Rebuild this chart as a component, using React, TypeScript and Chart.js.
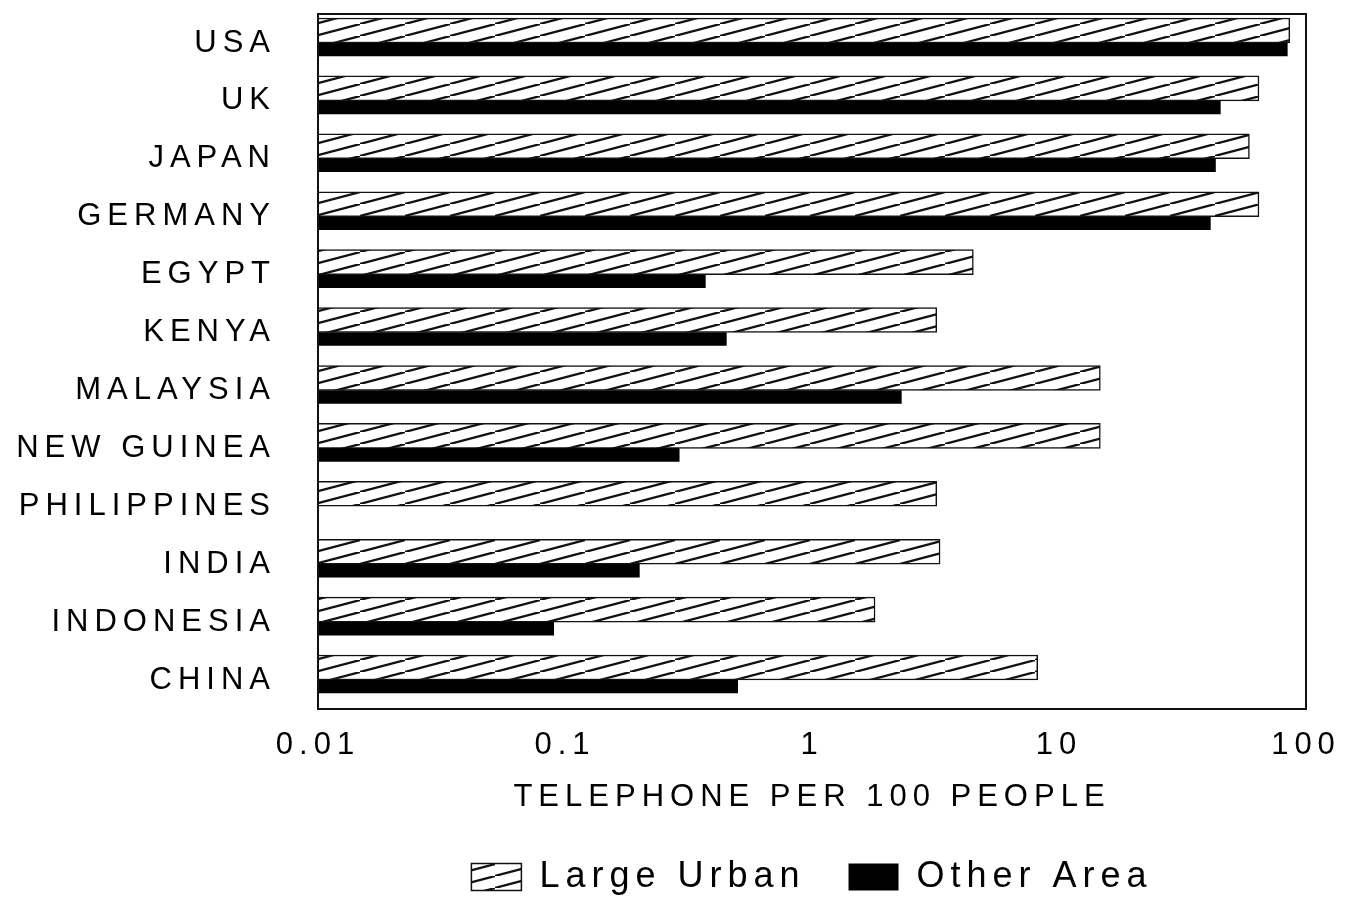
import React, { useEffect, useRef } from 'react';
import { Chart, registerables } from 'chart.js';

Chart.register(...registerables);

const CATEGORIES = ['USA', 'UK', 'JAPAN', 'GERMANY', 'EGYPT', 'KENYA', 'MALAYSIA', 'NEW GUINEA', 'PHILIPPINES', 'INDIA', 'INDONESIA', 'CHINA'];
const LARGE_URBAN = [86, 64.5, 59, 64.5, 4.5, 3.2, 14.7, 14.7, 3.2, 3.3, 1.8, 8.2];
const OTHER_AREA = [84, 45, 43, 41, 0.37, 0.45, 2.3, 0.29, null, 0.2, 0.09, 0.5];
const SERIES_NAMES = ['Large Urban', 'Other Area'];
const TICK_VALUES = [0.01, 0.1, 1, 10, 100];
const TICK_LABELS = ['0.01', '0.1', '1', '10', '100'];
const AXIS_TITLE = 'TELEPHONE PER 100 PEOPLE';

const FONT_FAMILY = '"Liberation Sans", Arial, Helvetica, sans-serif';

function makeHatch(): CanvasPattern | string {
  const w = 45;
  const h = 12;
  const c = document.createElement('canvas');
  c.width = w;
  c.height = h;
  const x = c.getContext('2d');
  if (!x) return '#ccc';
  x.fillStyle = '#fff';
  x.fillRect(0, 0, w, h);
  x.strokeStyle = '#111';
  x.lineWidth = 2.2;
  const shifts = [[0, 0], [-w, h], [w, -h]];
  for (const [dx, dy] of shifts) {
    x.beginPath();
    x.moveTo(dx, h + dy);
    x.lineTo(w + dx, dy);
    x.stroke();
  }
  return x.createPattern(c, 'repeat') || '#ccc';
}

const spacingPlugin = {
  id: 'letterSpacing',
  beforeUpdate(chart: any) {
    chart.ctx.letterSpacing = '6px';
  },
  beforeDraw(chart: any) {
    chart.ctx.letterSpacing = '6px';
  },
};

const framePlugin = {
  id: 'frame',
  afterDatasetsDraw(chart: any) {
    const { ctx, chartArea: a } = chart;
    ctx.save();
    ctx.strokeStyle = '#111';
    ctx.lineWidth = 2;
    ctx.strokeRect(a.left, a.top, a.right - a.left, a.bottom - a.top);
    ctx.restore();
  },
};

export default function App() {
  const ref = useRef<HTMLCanvasElement | null>(null);

  useEffect(() => {
    if (!ref.current) return;
    Chart.defaults.font.family = FONT_FAMILY;
    Chart.defaults.font.size = 31;
    Chart.defaults.color = '#000';
    const hatch = makeHatch();
    const chart = new Chart(ref.current, {
      type: 'bar',
      data: {
        labels: CATEGORIES,
        datasets: [
          {
            label: SERIES_NAMES[0],
            data: LARGE_URBAN,
            backgroundColor: hatch as any,
            borderColor: '#111',
            borderWidth: 1.5,
            barThickness: 25,
          },
          {
            label: SERIES_NAMES[1],
            data: OTHER_AREA as any,
            backgroundColor: '#000',
            borderWidth: 0,
            barThickness: 13,
          },
        ],
      },
      options: {
        indexAxis: 'y',
        responsive: false,
        animation: false,
        layout: { padding: { top: 14, right: 42, bottom: 0, left: 0 } },
        scales: {
          x: {
            type: 'logarithmic',
            position: 'bottom',
            min: 0.01,
            max: 100,
            afterBuildTicks: (s: any) => {
              s.ticks = TICK_VALUES.map((v) => ({ value: v }));
            },
            afterFit: (s: any) => {
              s.height = 107;
              s.paddingLeft = 0;
              s.paddingRight = 0;
            },
            grid: { display: false, drawTicks: false },
            border: { display: false },
            ticks: {
              padding: 18,
              autoSkip: false,
              maxRotation: 0,
              font: { size: 31 },
              color: '#000',
              callback: (_v: any, i: number) => TICK_LABELS[i] ?? '',
            },
            title: {
              display: true,
              text: AXIS_TITLE,
              color: '#000',
              font: { size: 31 },
              padding: { top: 0, bottom: 0 },
            },
          },
          y: {
            type: 'category',
            afterFit: (s: any) => {
              s.width = 318;
              s.paddingTop = 0;
              s.paddingBottom = 0;
            },
            grid: { display: false, drawTicks: false },
            border: { display: false },
            ticks: { padding: 42, autoSkip: false, font: { size: 31 }, color: '#000' },
          },
        },
        plugins: {
          legend: {
            position: 'bottom',
            fullSize: false,
            labels: {
              boxWidth: 50,
              boxHeight: 27,
              padding: 43,
              color: '#000',
              font: { size: 36 },
            },
          },
          tooltip: { enabled: false },
        },
      },
      plugins: [spacingPlugin, framePlugin],
    } as any);
    return () => chart.destroy();
  }, []);

  return (
    <div style={{ position: 'fixed', left: 0, top: 0, width: 1348, height: 905, background: '#fff' }}>
      <canvas ref={ref} width={1348} height={905} style={{ display: 'block', width: 1348, height: 905 }} />
    </div>
  );
}
